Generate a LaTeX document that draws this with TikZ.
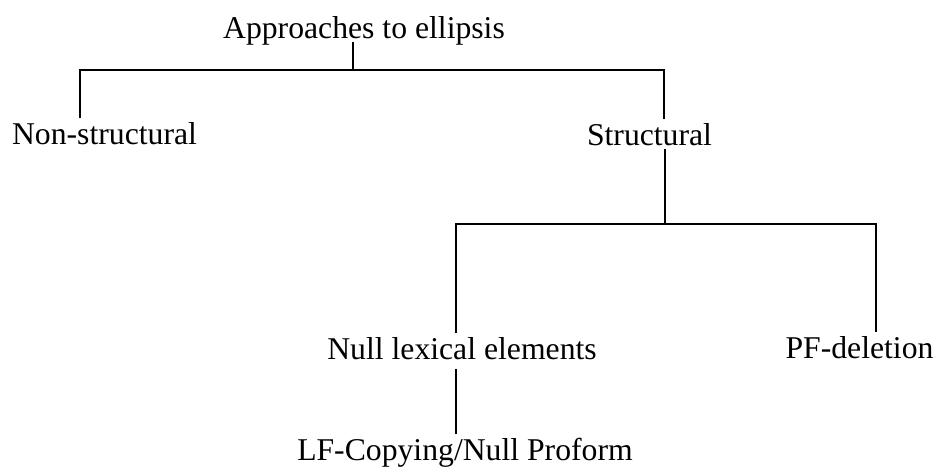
\documentclass[tikz,border=0pt]{standalone}
\usepackage{fontspec}
\setmainfont{Liberation Serif}

\begin{document}
\begin{tikzpicture}[x=0.5pt,y=-0.5pt,line width=0.9pt,
 main node/.style={anchor=base,inner sep=0pt,outer sep=2pt,text height=10.8pt,
 text depth=0pt,font=\fontsize{15.85}{19}\selectfont}]

  \useasboundingbox (0,0) rectangle (936,472);

  \node[main node] (approaches) at (364,38) {Approaches to ellipsis};
  \node[main node] (nonstructural) at (104.5,144) {Non-structural};
  \node[main node] (structural) at (649.5,145) {Structural};
  \node[main node] (null) at (462,359) {Null lexical elements};
  \node[main node] (pf) at (859.5,358) {PF-deletion};
  \node[main node] (lf) at (465,460) {LF-Copying/Null Proform};

  % forks
  \coordinate (top fork) at (353,70);
  \coordinate (left end) at (80,70);
  \coordinate (right end) at (664,70);
  \coordinate (mid fork) at (665,224);
  \coordinate (left end 2) at (456,224);
  \coordinate (right end 2) at (876,224);

  \draw (approaches.south -| top fork) -- (top fork);
  \draw (nonstructural.north -| left end) |- (right end) -- (structural.north -| right end);
  \draw (structural.south -| mid fork) -- (mid fork);
  \draw (null.north -| left end 2) |- (right end 2) -- (pf.north -| right end 2);
  \draw (null.south -| left end 2) ++(0,6) -- (lf.north -| left end 2);
\end{tikzpicture}
\end{document}
